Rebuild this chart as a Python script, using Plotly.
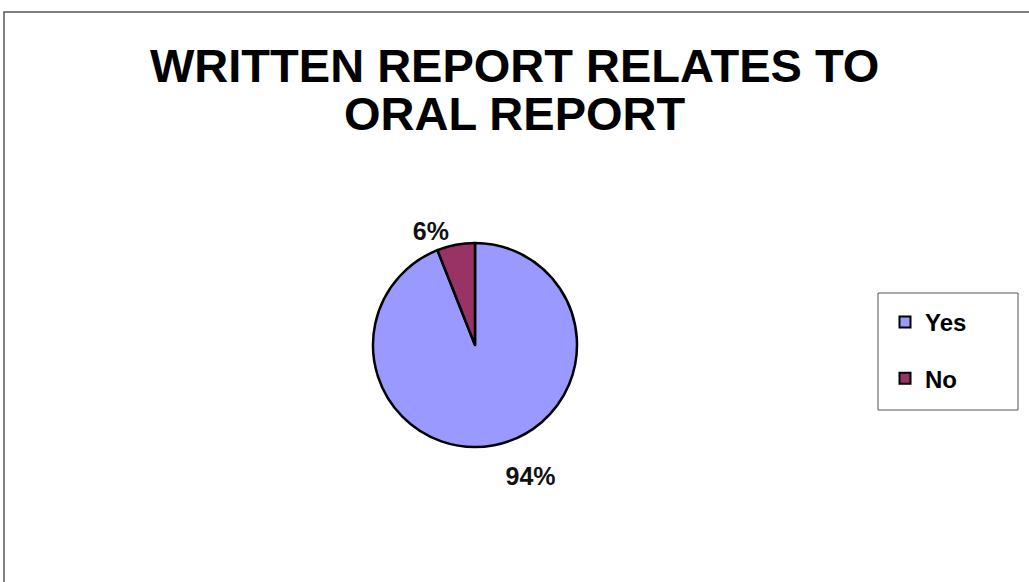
import plotly.graph_objects as go

labels = ["Yes", "No"]
values = [94, 6]
colors = ["#9999FF", "#993366"]
title_lines = ["WRITTEN REPORT RELATES TO", "ORAL REPORT"]

W, H = 1029, 582
def px(x): return x / W
def py(y): return 1 - y / H

gap = "<span style='font-size:9px'> </span>"

fig = go.Figure()
fig.add_trace(go.Pie(
    labels=labels, values=values, sort=False, direction="clockwise", rotation=0,
    marker=dict(colors=colors, line=dict(color="black", width=2.5)),
    textposition="outside",
    textfont=dict(family="Liberation Sans, Arial", size=25, color="#111111"),
    texttemplate=[gap + "<br><b>%{percent:.0%}</b>", "<b>%{percent:.0%}</b>"],
    domain=dict(x=[px(373), px(577)], y=[py(449), py(241)]),
    showlegend=False, hoverinfo="label+percent",
))
for i, (lab, col) in enumerate(zip(labels, colors)):
    fig.add_trace(go.Scatter(
        x=[None], y=[None], mode="markers", name="<b>%s</b>" % lab, legendgroup=lab,
        marker=dict(symbol="square", size=11, color=col, line=dict(color="black", width=2)),
    ))

ann = []
for i, t in enumerate(title_lines):
    ann.append(dict(text="<b>%s</b>" % t, x=0.5, xref="paper", y=py(65 + 49 * i), yref="paper",
                    xanchor="center", yanchor="middle", showarrow=False,
                    font=dict(family="Liberation Sans, Arial", size=47, color="black")))

fig.update_layout(
    width=W, height=H, margin=dict(l=0, r=0, t=0, b=0),
    paper_bgcolor="white", plot_bgcolor="white",
    xaxis=dict(visible=False), yaxis=dict(visible=False),
    annotations=ann,
    legend=dict(x=px(885), y=py(300), xanchor="left", yanchor="top",
                font=dict(family="Liberation Sans, Arial", size=24, color="black"),
                tracegroupgap=22, bgcolor="rgba(0,0,0,0)", borderwidth=0),
    shapes=[
        dict(type="rect", xref="paper", yref="paper", x0=px(4), x1=px(1040), y0=py(12), y1=py(600),
             line=dict(color="#555555", width=1.5), fillcolor="rgba(0,0,0,0)", layer="below"),
        dict(type="rect", xref="paper", yref="paper", x0=px(878), x1=px(1018), y0=py(293), y1=py(410),
             line=dict(color="#555555", width=1), fillcolor="white", layer="below"),
    ],
)
fig.write_html("out.html", config={"displayModeBar": False},
               post_script="document.body.style.margin='0';")
